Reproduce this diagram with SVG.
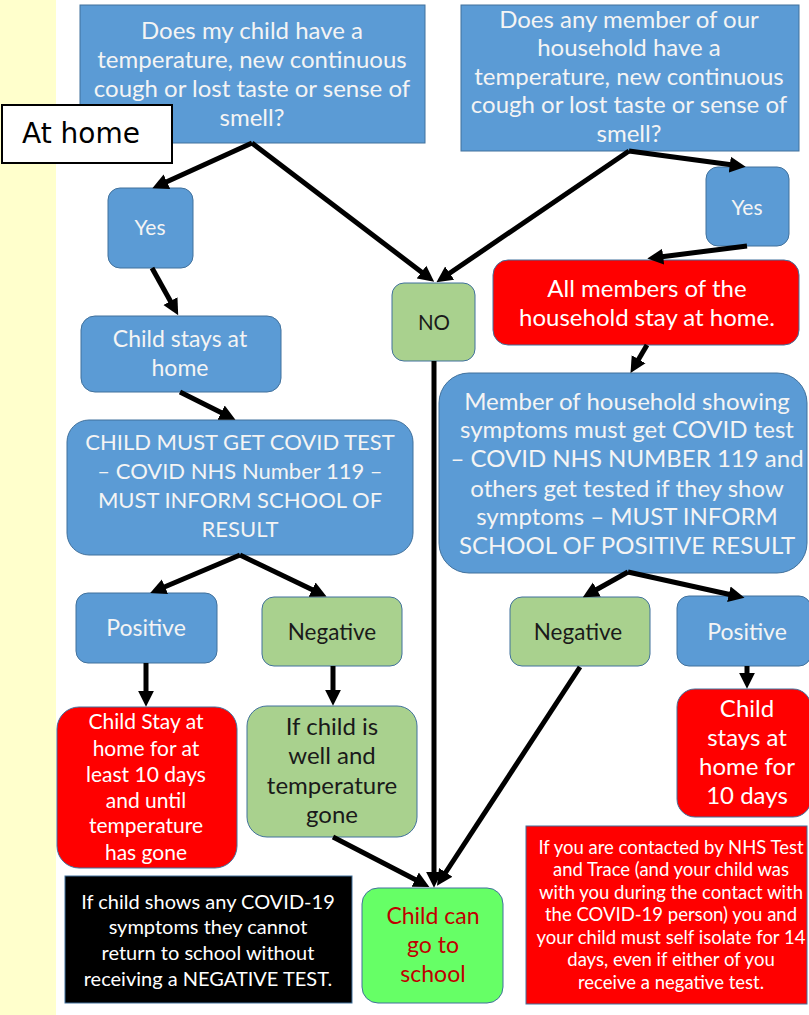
<svg xmlns="http://www.w3.org/2000/svg" width="809" height="1015" viewBox="0 0 809 1015">
<style>
text{font-family:Lato,"Open Sans","Liberation Sans",sans-serif;text-anchor:middle}
.blue{fill:#5B9BD5;stroke:#41719C;stroke-width:1}
.green{fill:#A9D18E;stroke:#41719C;stroke-width:1}
.red{fill:#FF0000;stroke:#41719C;stroke-width:1}
.lime{fill:#66FF66;stroke:#41719C;stroke-width:1}
.wt{fill:#F4F4F4}
.dk{fill:#1A1A1A}
.rt{fill:#FFFFFF}
.conn line{stroke:#000;stroke-width:5;marker-end:url(#ah)}
</style>
<defs>
<marker id="ah" viewBox="0 0 10 10" refX="2" refY="5" markerWidth="3.2" markerHeight="3.4" orient="auto" markerUnits="strokeWidth">
<path d="M0,0 L10,5 L0,10 z" fill="#000"/>
</marker>
</defs>
<rect x="0" y="0" width="809" height="1015" fill="#FFFFFF"/>
<rect x="0" y="0" width="56" height="1015" fill="#FFFFCC"/>

<g id="q-child">
<rect class="blue" x="80" y="5" width="345" height="138"/>
<g class="wt" font-size="24">
<text x="252" y="39">Does my child have a</text>
<text x="252" y="68">temperature, new continuous</text>
<text x="252" y="97">cough or lost taste or sense of</text>
<text x="252" y="126">smell?</text>
</g>
</g>

<g id="q-household">
<rect class="blue" x="461" y="5" width="338" height="146"/>
<g class="wt" font-size="24">
<text x="629" y="28">Does any member of our</text>
<text x="629" y="56">household have a</text>
<text x="629" y="85">temperature, new continuous</text>
<text x="629" y="113">cough or lost taste or sense of</text>
<text x="629" y="142">smell?</text>
</g>
</g>

<g id="at-home">
<rect x="2" y="105" width="170" height="58" fill="#FFFFFF" stroke="#000" stroke-width="2"/>
<text x="22" y="143" font-size="28" style="font-family:'DejaVu Sans',Verdana,sans-serif;text-anchor:start" fill="#000">At home</text>
</g>

<g id="yes-left">
<rect class="blue" x="108" y="188" width="85" height="80" rx="12"/>
<text class="wt" x="150" y="235" font-size="21">Yes</text>
</g>

<g id="yes-right">
<rect class="blue" x="706" y="167" width="83" height="79" rx="12"/>
<text class="wt" x="747" y="215" font-size="21">Yes</text>
</g>

<g id="no">
<rect class="green" x="392" y="283" width="83" height="78" rx="12"/>
<text class="dk" x="434" y="330" font-size="20.5">NO</text>
</g>

<g id="all-members">
<rect class="red" x="493" y="260" width="306" height="85" rx="15"/>
<g class="rt" font-size="24">
<text x="647" y="297">All members of the</text>
<text x="647" y="326">household stay at home.</text>
</g>
</g>

<g id="child-stays">
<rect class="blue" x="81" y="316" width="200" height="76" rx="14"/>
<g class="wt" font-size="23">
<text x="180" y="347">Child  stays at</text>
<text x="180" y="376">home</text>
</g>
</g>

<g id="child-test">
<rect class="blue" x="67" y="420" width="346" height="135" rx="22"/>
<g class="wt" font-size="22">
<text x="240" y="450">CHILD MUST GET COVID TEST</text>
<text x="240" y="479">– COVID NHS Number  119 –</text>
<text x="240" y="508">MUST INFORM SCHOOL OF</text>
<text x="240" y="537">RESULT</text>
</g>
</g>

<g id="member-test">
<rect class="blue" x="439" y="373" width="368" height="200" rx="30"/>
<g class="wt" font-size="24">
<text x="627" y="410">Member of household showing</text>
<text x="627" y="438">symptoms  must get COVID test</text>
<text x="627" y="467">–  COVID NHS NUMBER  119 and</text>
<text x="627" y="497">others get tested if they show</text>
<text x="627" y="525">symptoms – MUST INFORM</text>
<text x="627" y="554">SCHOOL OF POSITIVE RESULT</text>
</g>
</g>

<g id="pos-left">
<rect class="blue" x="76" y="593" width="141" height="70" rx="12"/>
<text class="wt" x="146" y="636" font-size="23">Positive</text>
</g>

<g id="neg-left">
<rect class="green" x="262" y="597" width="140" height="69" rx="12"/>
<text class="dk" x="332" y="640" font-size="22.5">Negative</text>
</g>

<g id="neg-right">
<rect class="green" x="510" y="597" width="140" height="69" rx="12"/>
<text class="dk" x="578" y="640" font-size="22.5">Negative</text>
</g>

<g id="pos-right">
<rect class="blue" x="677" y="596" width="134" height="70" rx="12"/>
<text class="wt" x="747" y="640" font-size="23">Positive</text>
</g>

<g id="child-stay-10">
<rect class="red" x="57" y="707" width="180" height="161" rx="22"/>
<g class="rt" font-size="21">
<text x="146" y="729">Child Stay at</text>
<text x="146" y="756">home for at</text>
<text x="146" y="782">least 10 days</text>
<text x="146" y="808">and until</text>
<text x="146" y="833">temperature</text>
<text x="146" y="860">has gone</text>
</g>
</g>

<g id="child-well">
<rect class="green" x="247" y="706" width="170" height="131" rx="20"/>
<g class="dk" font-size="24">
<text x="332" y="735">If child is</text>
<text x="332" y="764">well and</text>
<text x="332" y="794">temperature</text>
<text x="332" y="823">gone</text>
</g>
</g>

<g id="child-stays-10-right">
<rect class="red" x="677" y="689" width="134" height="128" rx="18"/>
<g class="rt" font-size="24">
<text x="747" y="717">Child</text>
<text x="747" y="746">stays at</text>
<text x="747" y="775">home  for</text>
<text x="747" y="804">10 days</text>
</g>
</g>

<g id="note-negative">
<rect x="65" y="876" width="287" height="127" fill="#000" stroke="#41719C" stroke-width="1"/>
<g class="rt" font-size="20">
<text x="208" y="909">If child shows any COVID-19</text>
<text x="208" y="934">symptoms they cannot</text>
<text x="208" y="960">return to school without</text>
<text x="208" y="986">receiving a  NEGATIVE TEST.</text>
</g>
</g>

<g id="go-school">
<rect class="lime" x="362" y="888" width="141" height="115" rx="16"/>
<g fill="#C00000" font-size="23">
<text x="433" y="924">Child  can</text>
<text x="433" y="953">go to</text>
<text x="433" y="982">school</text>
</g>
</g>

<g id="note-trace">
<rect x="526" y="826" width="281" height="178" fill="#FF0000" stroke="#41719C" stroke-width="1"/>
<g class="rt" font-size="18.5">
<text x="671" y="854">If you are contacted by NHS Test</text>
<text x="671" y="876">and Trace  (and your child was</text>
<text x="671" y="899">with you during the contact with</text>
<text x="671" y="921">the COVID-19 person) you and</text>
<text x="671" y="944">your child must self isolate for 14</text>
<text x="671" y="966">days, even if either of you</text>
<text x="671" y="989">receive a negative test.</text>
</g>
</g>

<g id="connectors" class="conn">
<line x1="252" y1="143" x2="164" y2="183"/>
<line x1="252" y1="143" x2="424" y2="274"/>
<line x1="629" y1="151" x2="447" y2="275"/>
<line x1="629" y1="151" x2="733" y2="165"/>
<line x1="747" y1="246" x2="660" y2="257"/>
<line x1="647" y1="345" x2="637" y2="362"/>
<line x1="152" y1="268" x2="172" y2="304"/>
<line x1="180" y1="392" x2="224" y2="414"/>
<line x1="240" y1="555" x2="162" y2="588"/>
<line x1="240" y1="555" x2="315" y2="591"/>
<line x1="146" y1="663" x2="146" y2="694"/>
<line x1="333" y1="666" x2="333" y2="693"/>
<line x1="333" y1="837" x2="418" y2="881"/>
<line x1="434" y1="361" x2="434" y2="875"/>
<line x1="580" y1="667" x2="444" y2="875"/>
<line x1="628" y1="572" x2="594" y2="591"/>
<line x1="628" y1="572" x2="732" y2="595"/>
<line x1="747" y1="666" x2="747" y2="676"/>
</g>
</svg>
